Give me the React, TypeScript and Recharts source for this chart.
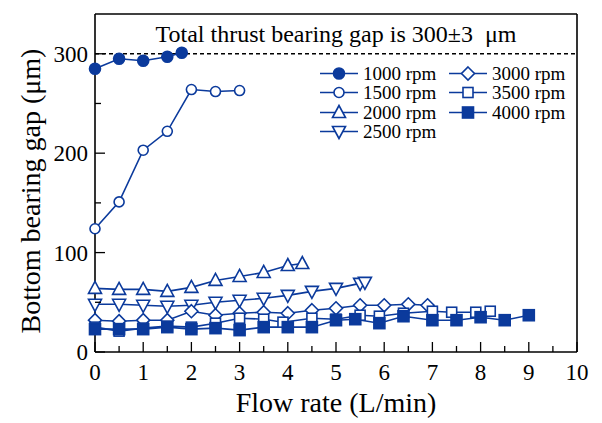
import { LineChart, Line, XAxis, YAxis, ReferenceLine, Legend } from 'recharts';

const FONT = '"Liberation Serif", "Times New Roman", serif';
const BLUE = '#0b3a9c';

// tick values
const xTicks = [0, 0.5, 1, 1.5, 2, 2.5, 3, 3.5, 4, 4.5, 5, 5.5, 6, 6.5, 7, 7.5, 8, 8.5, 9, 9.5, 10];
const yTicks = [0, 50, 100, 150, 200, 250, 300];

// flow rate (L/min) and bottom bearing gap (um) per speed
const flow1000 = [0, 0.5, 1, 1.5, 1.8];
const gap1000 = [285, 295, 293, 297, 301];

const flow1500 = [0, 0.5, 1, 1.5, 2, 2.5, 3];
const gap1500 = [124, 151, 203, 222, 264, 262, 263];

const flow2000 = [0, 0.5, 1, 1.5, 2, 2.5, 3, 3.5, 4, 4.3];
const gap2000 = [64, 63, 63, 61, 65, 72, 76, 80, 87, 89];

const flow2500 = [0, 0.5, 1, 1.5, 2, 2.5, 3, 3.5, 4, 4.5, 5, 5.5, 5.6];
const gap2500 = [48, 48, 47, 46, 47, 50, 52, 54, 57, 61, 64, 69, 70];

const flow3000 = [0, 0.5, 1, 1.5, 2, 2.5, 3, 3.5, 4, 4.5, 5, 5.5, 6, 6.5, 6.9];
const gap3000 = [32, 31, 32, 32, 41, 37, 39, 40, 39, 42, 44, 47, 47, 48, 47];

const flow3500 = [0, 0.5, 1, 1.5, 2, 2.5, 3, 3.5, 3.9, 4.5, 5, 5.5, 5.9, 6.4, 7, 7.4, 7.9, 8.2];
const gap3500 = [25, 21, 24, 26, 25, 29, 34, 33, 30, 34, 33, 37, 36, 39, 41, 40, 40, 41];

const flow4000 = [0, 0.5, 1, 1.5, 2, 2.5, 3, 3.5, 4, 4.5, 5, 5.4, 5.9, 6.4, 7, 7.5, 8, 8.5, 9];
const gap4000 = [23, 23, 23, 25, 23, 24, 22, 25, 25, 25, 32, 33, 29, 36, 32, 32, 35, 32, 37];

const zip = (xs: number[], ys: number[]) => xs.map((x, i) => ({ x, y: ys[i] }));

type Shape = 'circleFilled' | 'circle' | 'triUp' | 'triDown' | 'diamond' | 'square' | 'squareFilled';

const series: { name: string; shape: Shape; data: { x: number; y: number }[] }[] = [
  { name: '1000 rpm', shape: 'circleFilled', data: zip(flow1000, gap1000) },
  { name: '1500 rpm', shape: 'circle', data: zip(flow1500, gap1500) },
  { name: '2000 rpm', shape: 'triUp', data: zip(flow2000, gap2000) },
  { name: '2500 rpm', shape: 'triDown', data: zip(flow2500, gap2500) },
  { name: '3000 rpm', shape: 'diamond', data: zip(flow3000, gap3000) },
  { name: '3500 rpm', shape: 'square', data: zip(flow3500, gap3500) },
  { name: '4000 rpm', shape: 'squareFilled', data: zip(flow4000, gap4000) },
];

const Marker = ({ shape, cx, cy }: { shape: Shape; cx: number; cy: number }) => {
  const common = { stroke: BLUE, strokeWidth: 1.6 };
  switch (shape) {
    case 'circleFilled':
      return <circle cx={cx} cy={cy} r={5.5} fill={BLUE} {...common} />;
    case 'circle':
      return <circle cx={cx} cy={cy} r={5} fill="#fff" {...common} />;
    case 'triUp':
      return <polygon points={`${cx},${cy - 7} ${cx - 6.5},${cy + 5} ${cx + 6.5},${cy + 5}`} fill="#fff" {...common} />;
    case 'triDown':
      return <polygon points={`${cx},${cy + 7} ${cx - 6.5},${cy - 5} ${cx + 6.5},${cy - 5}`} fill="#fff" {...common} />;
    case 'diamond':
      return <polygon points={`${cx},${cy - 6.5} ${cx + 6.5},${cy} ${cx},${cy + 6.5} ${cx - 6.5},${cy}`} fill="#fff" {...common} />;
    case 'square':
      return <rect x={cx - 5} y={cy - 5} width={10} height={10} fill="#fff" {...common} />;
    default:
      return <rect x={cx - 5.5} y={cy - 5.5} width={11} height={11} fill={BLUE} {...common} />;
  }
};

const isMajorX = (v: number) => Number.isInteger(v);
const isMajorY = (v: number) => v % 100 === 0;

const TICK_FONT = 23;

const BottomTick = (p: any) => {
  const v = p.payload.value;
  const major = isMajorX(v);
  const y0 = p.y - 12;
  return (
    <g>
      <line x1={p.x} x2={p.x} y1={y0} y2={y0 - (major ? 10 : 6)} stroke="#000" strokeWidth={1.3} />
      {major && (
        <text x={p.x} y={p.y} dy="0.71em" textAnchor="middle" fontSize={TICK_FONT} fontFamily={FONT} fill="#000">
          {v}
        </text>
      )}
    </g>
  );
};

const TopTick = (p: any) => {
  const major = isMajorX(p.payload.value);
  return <line x1={p.x} x2={p.x} y1={p.y} y2={p.y + (major ? 10 : 6)} stroke="#000" strokeWidth={1.3} />;
};

const LeftTick = (p: any) => {
  const v = p.payload.value;
  const major = isMajorY(v);
  const x0 = p.x + 7;
  return (
    <g>
      <line x1={x0} x2={x0 + (major ? 10 : 6)} y1={p.y} y2={p.y} stroke="#000" strokeWidth={1.3} />
      {major && (
        <text x={p.x} y={p.y} dy="0.35em" textAnchor="end" fontSize={TICK_FONT} fontFamily={FONT} fill="#000">
          {v}
        </text>
      )}
    </g>
  );
};

const RightTick = (p: any) => {
  const major = isMajorY(p.payload.value);
  return <line x1={p.x} x2={p.x - (major ? 10 : 6)} y1={p.y} y2={p.y} stroke="#000" strokeWidth={1.3} />;
};

const YLabel = ({ viewBox }: any) => {
  const cx = viewBox.x + 22;
  const cy = viewBox.y + viewBox.height / 2 + 8;
  return (
    <text
      x={cx}
      y={cy}
      transform={`rotate(-90 ${cx} ${cy})`}
      textAnchor="middle"
      dominantBaseline="central"
      fontSize={28}
      fontFamily={FONT}
      fill="#000"
    >
      Bottom bearing gap (μm)
    </text>
  );
};

const LegendItem = ({ name, shape }: { name: string; shape: Shape }) => (
  <div style={{ display: 'flex', alignItems: 'center', height: 19.5 }}>
    <svg width={40} height={19} style={{ display: 'block' }}>
      <line x1={0} x2={38} y1={9.5} y2={9.5} stroke={BLUE} strokeWidth={1.6} />
      <Marker shape={shape} cx={19} cy={9.5} />
    </svg>
    <span style={{ marginLeft: 3, whiteSpace: 'nowrap' }}>{name}</span>
  </div>
);

const renderLegend = () => (
  <div style={{ display: 'flex', fontFamily: FONT, fontSize: 19, lineHeight: '19.5px', color: '#000' }}>
    <div style={{ width: 129 }}>
      {series.slice(0, 4).map((s) => (
        <LegendItem key={s.name} name={s.name} shape={s.shape} />
      ))}
    </div>
    <div>
      {series.slice(4).map((s) => (
        <LegendItem key={s.name} name={s.name} shape={s.shape} />
      ))}
    </div>
  </div>
);

const axisLine = { stroke: '#000', strokeWidth: 1.6 };

export default function App() {
  return (
    <LineChart width={594} height={410} margin={{ top: 5, right: 24, bottom: 0, left: 0 }}>
      <XAxis
        dataKey="x"
        type="number"
        domain={[0, 10]}
        ticks={xTicks}
        interval={0}
        tickSize={0}
        tickMargin={12}
        tick={BottomTick}
        axisLine={axisLine}
        height={66}
        label={{ value: 'Flow rate (L/min)', position: 'insideBottom', offset: 6, fontSize: 28, fontFamily: FONT, fill: '#000' }}
      />
      <XAxis
        xAxisId="top"
        orientation="top"
        type="number"
        domain={[0, 10]}
        ticks={xTicks}
        interval={0}
        tickSize={0}
        tickMargin={0}
        tick={TopTick}
        axisLine={axisLine}
        height={1}
      />
      <YAxis
        type="number"
        domain={[0, 340]}
        ticks={yTicks}
        interval={0}
        tickSize={0}
        tickMargin={7}
        tick={LeftTick}
        axisLine={axisLine}
        width={87}
        label={<YLabel />}
      />
      <YAxis
        yAxisId="right"
        orientation="right"
        type="number"
        domain={[0, 340]}
        ticks={yTicks}
        interval={0}
        tickSize={0}
        tickMargin={0}
        tick={RightTick}
        axisLine={axisLine}
        width={1}
      />
      <ReferenceLine
        y={300}
        stroke="#000"
        strokeWidth={1.5}
        strokeDasharray="4 3"
        label={{
          value: 'Total thrust bearing gap is 300±3\u00a0 μm',
          position: 'top',
          offset: 12,
          fontSize: 24,
          fontFamily: FONT,
          fill: '#000',
        }}
      />
      {series.map((s) => (
        <Line
          key={s.name}
          data={s.data}
          dataKey="y"
          name={s.name}
          type="linear"
          stroke={BLUE}
          strokeWidth={1.6}
          isAnimationActive={false}
          activeDot={false}
          dot={(p: any) => <Marker key={`${s.name}-${p.index}`} shape={s.shape} cx={p.cx} cy={p.cy} />}
        />
      ))}
      <Legend
        layout="vertical"
        align="center"
        verticalAlign="middle"
        content={renderLegend}
        wrapperStyle={{ top: 55.5, left: 312, width: 'auto' }}
      />
    </LineChart>
  );
}
